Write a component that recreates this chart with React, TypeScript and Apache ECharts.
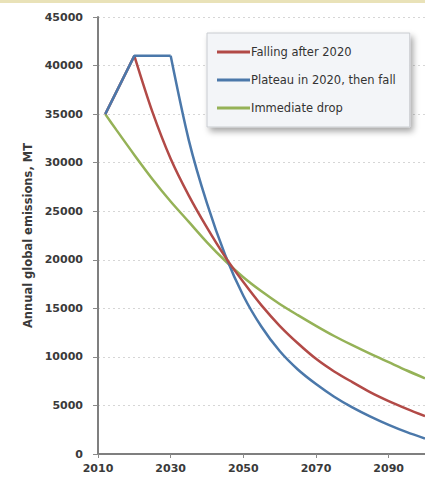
import React, { useEffect, useRef } from "react";
import * as echarts from "echarts";

const seriesNames = ["Falling after 2020", "Plateau in 2020, then fall", "Immediate drop"];

// Falling after 2020: straight rise to the 2020 peak, then a smooth decline
const fallingRiseYears = [2012, 2020];
const fallingRiseValues = [35000, 41000];
const fallingDeclineYears = [2020, 2025, 2030, 2035, 2040, 2045, 2050, 2055, 2060, 2065, 2070, 2075, 2080, 2085, 2090, 2095, 2100];
const fallingDeclineValues = [41000, 35200, 30400, 26600, 23300, 20300, 17700, 15300, 13200, 11400, 9800, 8500, 7400, 6350, 5450, 4650, 3900];

// Plateau in 2020, then fall
const plateauRiseYears = [2012, 2020, 2030];
const plateauRiseValues = [35000, 41000, 41000];
const plateauDeclineYears = [2030, 2035, 2040, 2045, 2050, 2055, 2060, 2065, 2070, 2075, 2080, 2085, 2090, 2095, 2100];
const plateauDeclineValues = [41000, 32300, 25800, 20500, 16300, 13100, 10600, 8700, 7200, 5900, 4800, 3850, 3000, 2250, 1600];

// Immediate drop
const dropYears = [2012, 2015, 2020, 2025, 2030, 2035, 2040, 2045, 2050, 2055, 2060, 2065, 2070, 2075, 2080, 2085, 2090, 2095, 2100];
const dropValues = [35000, 33400, 30800, 28300, 26000, 23900, 21800, 19900, 18200, 16750, 15450, 14300, 13200, 12150, 11200, 10300, 9450, 8600, 7800];

const xTickLabels = [2010, 2030, 2050, 2070, 2090];
const colors = ["#b24a47", "#4b78aa", "#95b257"];

const pairs = (xs: number[], ys: number[]) => xs.map((x, i) => [x, ys[i]]);

export default function App() {
  const ref = useRef<HTMLDivElement>(null);
  useEffect(() => {
    if (!ref.current) return;
    const chart = echarts.init(ref.current, null, { renderer: "svg" });
    const labelFont = { fontFamily: "DejaVu Sans", fontWeight: "bold" as const, fontSize: 11, color: "#3a3a3a" };
    const lineBase = { type: "line", showSymbol: false, symbol: "none" };
    chart.setOption({
      animation: false,
      backgroundColor: "#ffffff",
      graphic: [
        { type: "rect", left: 0, top: 0, shape: { width: 425, height: 3 }, style: { fill: "#e9e2b8" } },
      ],
      grid: { left: 98, right: 0, top: 17, bottom: 27, containLabel: false },
      legend: {
        orient: "vertical",
        left: 207,
        top: 33,
        width: 180,
        padding: [13, 14, 13, 10],
        itemGap: 16,
        itemWidth: 33,
        itemHeight: 3,
        icon: "rect",
        backgroundColor: "#f3f5f8",
        borderColor: "#c9ccd0",
        borderWidth: 1,
        shadowBlur: 6,
        shadowColor: "rgba(0,0,0,0.35)",
        shadowOffsetX: 3,
        shadowOffsetY: 4,
        textStyle: { fontFamily: "DejaVu Sans", fontSize: 11.5, color: "#333", padding: [0, 0, 0, -4] },
        data: seriesNames,
      },
      xAxis: {
        type: "value",
        min: 2010,
        max: 2100,
        axisLine: { show: true, lineStyle: { color: "#7f7f7f", width: 2 } },
        axisTick: { show: true, length: 4, customValues: xTickLabels, lineStyle: { color: "#8a8a8a" } },
        axisLabel: { ...labelFont, margin: 9, customValues: xTickLabels, formatter: (v: number) => String(v) },
        splitLine: { show: false },
      },
      yAxis: {
        type: "value",
        min: 0,
        max: 45000,
        interval: 5000,
        name: "Annual global emissions, MT",
        nameLocation: "middle",
        nameGap: 56,
        nameTextStyle: { fontFamily: "DejaVu Sans", fontWeight: "bold", fontSize: 11.5, color: "#3a3a3a" },
        axisLine: { show: true, lineStyle: { color: "#7f7f7f", width: 2 } },
        axisTick: { show: true, length: 5, lineStyle: { color: "#8a8a8a" } },
        axisLabel: { ...labelFont, margin: 15, formatter: (v: number) => String(v) },
        splitLine: { show: true, lineStyle: { color: "#d6d6d6", type: [2, 3], width: 1 } },
      },
      series: [
        { ...lineBase, name: seriesNames[0], data: pairs(fallingRiseYears, fallingRiseValues), smooth: false, color: colors[0], lineStyle: { width: 2.5, color: colors[0] }, z: 3 },
        { ...lineBase, name: seriesNames[0], data: pairs(fallingDeclineYears, fallingDeclineValues), smooth: 0.3, color: colors[0], lineStyle: { width: 2.5, color: colors[0] }, z: 3 },
        { ...lineBase, name: seriesNames[1], data: pairs(plateauRiseYears, plateauRiseValues), smooth: false, color: colors[1], lineStyle: { width: 2.5, color: colors[1] }, z: 4 },
        { ...lineBase, name: seriesNames[1], data: pairs(plateauDeclineYears, plateauDeclineValues), smooth: 0.3, color: colors[1], lineStyle: { width: 2.5, color: colors[1] }, z: 2 },
        { ...lineBase, name: seriesNames[2], data: pairs(dropYears, dropValues), smooth: 0.3, color: colors[2], lineStyle: { width: 2.5, color: colors[2] }, z: 1 },
      ],
    });
    return () => chart.dispose();
  }, []);
  return <div ref={ref} style={{ width: 425, height: 481, position: "absolute", left: 0, top: 0 }} />;
}
